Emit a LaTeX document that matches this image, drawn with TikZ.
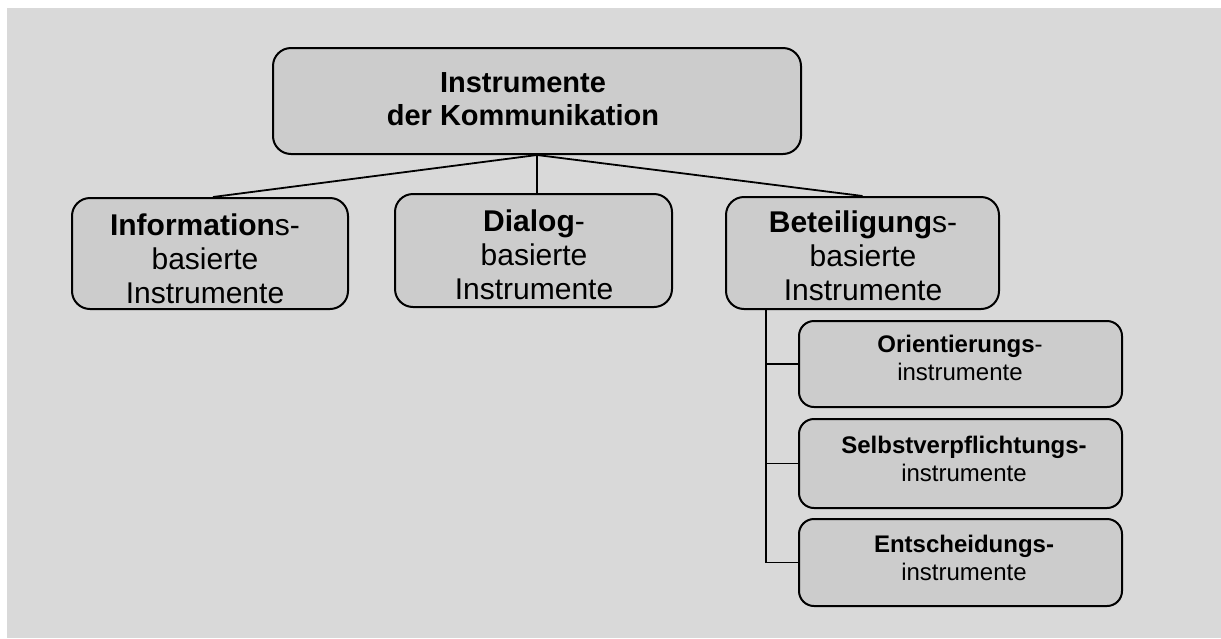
\documentclass[tikz,border=0pt]{standalone}
\usepackage{fontspec}
\setmainfont{Liberation Sans}
\definecolor{bggray}{HTML}{D9D9D9}
\definecolor{boxgray}{HTML}{CCCCCC}
\tikzset{
  bigbox/.style={draw=black, line width=2pt, fill=boxgray, rounded corners=18pt, inner sep=0pt},
  smallbox/.style={draw=black, line width=2pt, fill=boxgray, rounded corners=15pt, inner sep=0pt},
  bigtext/.style={anchor=base, inner sep=0pt, font=\fontsize{30}{34}\selectfont},
  toptext/.style={anchor=base, inner sep=0pt, font=\fontsize{29}{33}\selectfont\bfseries},
  smalltext/.style={anchor=base, inner sep=0pt, font=\fontsize{24}{28.5}\selectfont},
  conn/.style={draw=black, line width=1.8pt},
}
\newcommand{\lines}[1]{\begin{tabular}[t]{@{}c@{}}#1\end{tabular}}
\begin{document}
\begin{tikzpicture}[x=1pt,y=-1pt]
\useasboundingbox (0,0) rectangle (1221,638);
\fill[bggray] (7,8) rectangle (1221,638);

% boxes
\node[bigbox, minimum width=528pt, minimum height=106pt] (top) at (537,101) {};
\node[bigbox, minimum width=276pt, minimum height=111pt] (info) at (210,253.5) {};
\node[bigbox, minimum width=277pt, minimum height=113pt] (dial) at (533.5,250.5) {};
\node[bigbox, minimum width=273pt, minimum height=112pt] (bet) at (862.5,253) {};
\node[smallbox, minimum width=323pt, minimum height=86pt] (ori) at (960.5,364) {};
\node[smallbox, minimum width=323pt, minimum height=89pt] (sel) at (960.5,463.5) {};
\node[smallbox, minimum width=323pt, minimum height=87pt] (ent) at (960.5,562.5) {};

% texts
\node[toptext] (toptx) at (523,92) {\lines{Instrumente\\der Kommunikation}};
\node[bigtext] (infotx) at (205,235) {\lines{\textbf{Information}s-\\basierte\\Instrumente}};
\node[bigtext] (dialtx) at (534,231) {\lines{\textbf{Dialog}-\\basierte\\Instrumente}};
\node[bigtext] (bettx) at (863,232) {\lines{\textbf{Beteiligung}s-\\basierte\\Instrumente}};
\node[smalltext] (oritx) at (960,352) {\lines{\textbf{Orientierungs}-\\instrumente}};
\node[smalltext] (seltx) at (964,453) {\lines{\textbf{Selbstverpflichtungs-}\\instrumente}};
\node[smalltext] (enttx) at (964,552) {\lines{\textbf{Entscheidungs-}\\instrumente}};

% connectors
\draw[conn] (top.south) -- ([xshift=3pt]info.north);
\draw[conn] (top.south) -- (dial.north -| top.south);
\draw[conn] (top.south) -- (bet.north);
\coordinate (spine) at (766,309);
\draw[conn] (spine) |- (ent.west);
\draw[conn] (spine |- ori.west) -- (ori.west);
\draw[conn] (spine |- sel.west) -- (sel.west);
\end{tikzpicture}
\end{document}
